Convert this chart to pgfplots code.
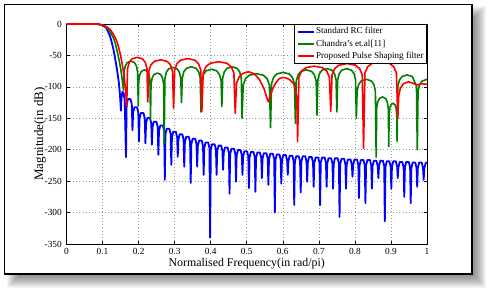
\documentclass[border=0pt]{standalone}
\usepackage{fontspec}
\setmainfont{Liberation Serif}
\usepackage{pgfplots}
\pgfplotsset{compat=1.18}
\definecolor{mblue}{RGB}{0,0,255}
\definecolor{mgreen}{RGB}{0,128,0}
\definecolor{mred}{RGB}{255,0,0}
\begin{document}
\begin{tikzpicture}[x=0.75pt,y=0.75pt]
\path[use as bounding box] (0,0) rectangle (488,291);
\fill[white] (0,0) rectangle (488,291);
\foreach \i in {-6,...,6} {\fill[black,opacity=0.04] (12.5+\i,9+\i) rectangle (480-\i,278.5-\i);}
\fill[white] (4.5,17) rectangle (472,286.5);
\draw[black,line width=1.1pt] (4.5,17) rectangle (472,286.5);
\begin{axis}[
  at={(49.875pt,35.25pt)}, anchor=south west,
  scale only axis, width=270.375pt, height=165pt,
  xmin=0, xmax=1, ymin=-350, ymax=0,
  xtick={0,0.1,0.2,0.3,0.4,0.5,0.6,0.7,0.8,0.9,1},
  ytick={-350,-300,-250,-200,-150,-100,-50,0},
  grid=major, major grid style={dotted, gray!80, line width=0.4pt},
  axis line style={black, line width=0.5pt},
  tick align=inside, major tick length=2.5pt, tick style={black, line width=0.4pt},
  ticklabel style={font=\fontsize{7}{8}\selectfont},
  /pgf/number format/assume math mode=true,
  xlabel={Normalised Frequency(in rad/pi)},
  xlabel style={font=\fontsize{8.9}{10}\selectfont, at={(axis description cs:0.5,-0.09)}, anchor=center},
  ylabel={Magnitude(in dB)},
  ylabel style={font=\fontsize{9.7}{11}\selectfont, at={(axis description cs:-0.0735,0.5)}, anchor=center},
  legend style={at={(1,1)}, anchor=north east, draw=black, line width=0.4pt, fill=white,
    font=\fontsize{6.8}{8}\selectfont, inner sep=1.5pt, row sep=1pt,
    nodes={inner sep=0.8pt, text height=5pt, text depth=1.6pt}},
  legend cell align=left,
  legend image code/.code={\draw[#1] (0pt,0pt) -- (12.5pt,0pt);},
  every axis plot/.append style={line join=round, no markers},
]
\addplot[mblue, line width=1.35pt] coordinates {
(0,0) (0.04,0) (0.08,0) (0.09,-0.5) (0.10,-2) (0.11,-6) (0.12,-18) (0.125,-28) (0.13,-40) (0.135,-55) (0.14,-72) (0.145,-92) (0.148,-110) (0.151,-138) (0.1525,-118) (0.155,-108) (0.1585,-110) (0.1615,-122)
(0.1650,-212) (0.1668,-128) (0.1704,-119.5) (0.1776,-119.5) (0.1812,-128)
(0.1830,-169) (0.1848,-141) (0.1884,-132.5) (0.1956,-132.5) (0.1992,-141)
(0.2009,-187) (0.2027,-150) (0.2063,-141.5) (0.2135,-141.5) (0.2171,-150)
(0.2189,-190) (0.2207,-158) (0.2243,-149.5) (0.2315,-149.5) (0.2351,-158)
(0.2368,-192) (0.2386,-164) (0.2422,-155.5) (0.2494,-155.5) (0.2530,-164)
(0.2548,-208) (0.2566,-170) (0.2602,-161.5) (0.2674,-161.5) (0.2710,-170)
(0.2727,-248) (0.2745,-175) (0.2781,-166.5) (0.2853,-166.5) (0.2889,-175)
(0.2907,-224) (0.2925,-180) (0.2961,-171.5) (0.3033,-171.5) (0.3069,-180)
(0.3086,-211) (0.3104,-184) (0.3140,-175.5) (0.3212,-175.5) (0.3248,-184)
(0.3266,-227) (0.3284,-188) (0.3320,-179.5) (0.3392,-179.5) (0.3428,-188)
(0.3445,-253) (0.3463,-191) (0.3499,-182.5) (0.3571,-182.5) (0.3607,-191)
(0.3625,-227) (0.3643,-194) (0.3679,-185.5) (0.3751,-185.5) (0.3787,-194)
(0.3804,-240) (0.3822,-197) (0.3858,-188.5) (0.3930,-188.5) (0.3966,-197)
(0.3984,-340) (0.4002,-200) (0.4038,-191.5) (0.4110,-191.5) (0.4146,-200)
(0.4163,-240) (0.4181,-202) (0.4217,-193.5) (0.4289,-193.5) (0.4325,-202)
(0.4343,-232) (0.4361,-205) (0.4397,-196.5) (0.4469,-196.5) (0.4505,-205)
(0.4522,-270) (0.4540,-207) (0.4576,-198.5) (0.4648,-198.5) (0.4684,-207)
(0.4702,-251) (0.4720,-209) (0.4756,-200.5) (0.4828,-200.5) (0.4864,-209)
(0.4881,-240) (0.4899,-211) (0.4935,-202.5) (0.5007,-202.5) (0.5043,-211)
(0.5061,-261) (0.5079,-212) (0.5115,-203.5) (0.5187,-203.5) (0.5223,-212)
(0.5240,-267) (0.5258,-213) (0.5294,-204.5) (0.5366,-204.5) (0.5402,-213)
(0.5420,-245) (0.5438,-214) (0.5474,-205.5) (0.5546,-205.5) (0.5582,-214)
(0.5599,-256) (0.5617,-215) (0.5653,-206.5) (0.5725,-206.5) (0.5761,-215)
(0.5779,-300) (0.5797,-216) (0.5833,-207.5) (0.5905,-207.5) (0.5941,-216)
(0.5958,-254) (0.5976,-217) (0.6012,-208.5) (0.6084,-208.5) (0.6120,-217)
(0.6138,-240) (0.6156,-218) (0.6192,-209.5) (0.6264,-209.5) (0.6300,-218)
(0.6317,-288) (0.6335,-219) (0.6371,-210.5) (0.6443,-210.5) (0.6479,-219)
(0.6497,-268) (0.6515,-219) (0.6551,-210.5) (0.6623,-210.5) (0.6659,-219)
(0.6676,-251) (0.6694,-220) (0.6730,-211.5) (0.6802,-211.5) (0.6838,-220)
(0.6856,-259) (0.6874,-221) (0.6910,-212.5) (0.6982,-212.5) (0.7018,-221)
(0.7035,-288) (0.7053,-221) (0.7089,-212.5) (0.7161,-212.5) (0.7197,-221)
(0.7215,-259) (0.7233,-222) (0.7269,-213.5) (0.7341,-213.5) (0.7377,-222)
(0.7394,-262) (0.7412,-222) (0.7448,-213.5) (0.7520,-213.5) (0.7556,-222)
(0.7574,-307) (0.7592,-223) (0.7628,-214.5) (0.7700,-214.5) (0.7736,-223)
(0.7753,-262) (0.7771,-224) (0.7807,-215.5) (0.7879,-215.5) (0.7915,-224)
(0.7933,-243) (0.7951,-224) (0.7987,-215.5) (0.8059,-215.5) (0.8095,-224)
(0.8112,-277) (0.8130,-225) (0.8166,-216.5) (0.8238,-216.5) (0.8274,-225)
(0.8292,-285) (0.8310,-225) (0.8346,-216.5) (0.8418,-216.5) (0.8454,-225)
(0.8471,-262) (0.8489,-226) (0.8525,-217.5) (0.8597,-217.5) (0.8633,-226)
(0.8651,-245) (0.8669,-226) (0.8705,-217.5) (0.8777,-217.5) (0.8813,-226)
(0.8830,-314) (0.8848,-227) (0.8884,-218.5) (0.8956,-218.5) (0.8992,-227)
(0.9010,-262) (0.9028,-227) (0.9064,-218.5) (0.9136,-218.5) (0.9172,-227)
(0.9189,-245) (0.9207,-228) (0.9243,-219.5) (0.9315,-219.5) (0.9351,-228)
(0.9369,-275) (0.9387,-228) (0.9423,-219.5) (0.9495,-219.5) (0.9531,-228)
(0.9548,-285) (0.9566,-229) (0.9602,-220.5) (0.9674,-220.5) (0.9710,-229)
(0.9728,-259) (0.9746,-229) (0.9782,-220.5) (0.9854,-220.5) (0.9890,-229)
(0.9907,-248) (0.9925,-230) (0.9961,-221.5) (1.0,-220)
};
\addlegendentry{Standard RC filter}
\addplot[mgreen, line width=1.2pt] coordinates {
(0,0) (0.06,0) (0.08,0) (0.09,-0.5) (0.10,-2) (0.11,-5) (0.12,-11) (0.13,-22) (0.135,-30) (0.14,-42) (0.145,-55) (0.15,-70) (0.154,-86)
(0.158,-105) (0.1596,-77) (0.1629,-67) (0.1683,-61.5) (0.1785,-59) (0.1888,-61.5) (0.1941,-67) (0.1974,-77)
(0.199,-130) (0.2004,-91) (0.2031,-81) (0.2075,-75.5) (0.216,-73) (0.2245,-75.5) (0.2289,-81) (0.2316,-91)
(0.233,-150) (0.2345,-96) (0.2376,-86) (0.2425,-80.5) (0.252,-78) (0.2615,-80.5) (0.2664,-86) (0.2695,-96)
(0.271,-190) (0.2729,-87) (0.2768,-77) (0.283,-71.5) (0.295,-69) (0.307,-71.5) (0.3132,-77) (0.3171,-87)
(0.319,-125) (0.3212,-86) (0.3255,-76) (0.3325,-70.5) (0.346,-68) (0.3595,-70.5) (0.3665,-76) (0.3708,-86)
(0.373,-140) (0.3753,-90) (0.38,-80) (0.3875,-74.5) (0.402,-72) (0.4165,-74.5) (0.424,-80) (0.4287,-90)
(0.431,-131) (0.4332,-86) (0.4377,-76) (0.445,-70.5) (0.459,-68) (0.473,-70.5) (0.4803,-76) (0.4848,-86)
(0.487,-150) (0.4902,-97) (0.4965,-87) (0.5068,-81.5) (0.5265,-79) (0.5463,-81.5) (0.5565,-87) (0.5628,-97)
(0.566,-165) (0.5688,-95) (0.5743,-85) (0.5833,-79.5) (0.6005,-77) (0.6178,-79.5) (0.6267,-85) (0.6322,-95)
(0.635,-158) (0.6374,-91) (0.6422,-81) (0.65,-75.5) (0.665,-73) (0.68,-75.5) (0.6878,-81) (0.6926,-91)
(0.695,-145) (0.6972,-89) (0.7016,-79) (0.7088,-73.5) (0.7225,-71) (0.7363,-73.5) (0.7434,-79) (0.7478,-89)
(0.75,-140) (0.7522,-89) (0.7565,-79) (0.7635,-73.5) (0.777,-71) (0.7905,-73.5) (0.7975,-79) (0.8018,-89)
(0.804,-150) (0.8062,-106) (0.8106,-96) (0.8178,-90.5) (0.8315,-88) (0.8453,-90.5) (0.8524,-96) (0.8568,-106)
(0.859,-212) (0.8604,-134) (0.8632,-124) (0.8678,-118.5) (0.8765,-116) (0.8853,-118.5) (0.8898,-124) (0.8926,-134)
(0.894,-195) (0.8949,-144) (0.8968,-134) (0.8998,-128.5) (0.9055,-126) (0.9113,-128.5) (0.9142,-134) (0.9161,-144)
(0.917,-187) (0.9192,-99) (0.9237,-89) (0.931,-83.5) (0.945,-81) (0.959,-83.5) (0.9633,-89) (0.9708,-99)
(0.973,-200) (0.9752,-107) (0.979,-97) (0.986,-91) (1.0,-88)
};
\addlegendentry{Chandra's et.al[11]}
\addplot[mred, line width=1.2pt] coordinates {
(0,0) (0.06,0) (0.08,0) (0.09,-0.5) (0.10,-1.5) (0.11,-4) (0.12,-8) (0.13,-16) (0.14,-28) (0.145,-38) (0.15,-50) (0.155,-65) (0.16,-85) (0.164,-105)
(0.167,-132) (0.1693,-71) (0.174,-61) (0.1816,-55.5) (0.1963,-53) (0.2109,-55.5) (0.2185,-61) (0.2232,-71)
(0.2255,-124) (0.2284,-75) (0.2341,-65) (0.2434,-59.5) (0.2613,-57) (0.2791,-59.5) (0.2884,-65) (0.2941,-75)
(0.297,-134) (0.3001,-73) (0.3064,-63) (0.3166,-57.5) (0.3363,-55) (0.3559,-57.5) (0.3661,-63) (0.3724,-73)
(0.3755,-139) (0.3792,-78) (0.3866,-68) (0.3986,-62.5) (0.4218,-60) (0.4449,-62.5) (0.4569,-68) (0.4643,-78)
(0.468,-142) (0.4717,-94) (0.479,-84) (0.49,-78.5) (0.505,-76) (0.52,-79) (0.535,-88) (0.548,-103) (0.556,-118)
(0.56,-124) (0.564,-117) (0.572,-103) (0.58,-94) (0.59,-87) (0.60,-85) (0.61,-86) (0.62,-89) (0.63,-95) (0.636,-104) (0.639,-120)
(0.641,-187) (0.6447,-85) (0.652,-75) (0.664,-69.5) (0.687,-67) (0.71,-69.5) (0.722,-75) (0.7293,-85)
(0.733,-139) (0.7366,-81) (0.7439,-71) (0.7558,-65.5) (0.7785,-63) (0.8013,-65.5) (0.8131,-71) (0.8204,-81)
(0.824,-198) (0.8278,-78) (0.8354,-68) (0.8478,-62.5) (0.8715,-60) (0.8953,-62.5) (0.9076,-68) (0.9152,-78)
(0.919,-150) (0.9215,-115) (0.926,-102) (0.935,-95) (0.948,-92) (0.96,-94) (0.972,-97) (0.985,-95) (1.0,-96)
};
\addlegendentry{Proposed Pulse Shaping filter}
\end{axis}
\end{tikzpicture}
\end{document}
